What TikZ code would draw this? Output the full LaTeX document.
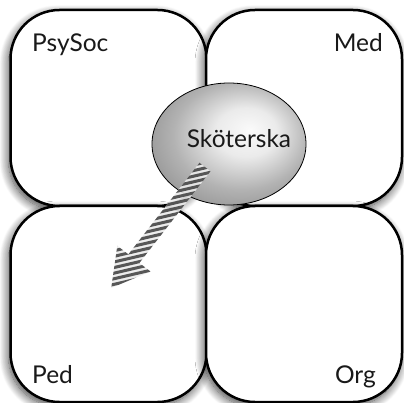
\documentclass[tikz,border=0pt]{standalone}
\usepackage{fontspec}
\setmainfont{Lato}
\usetikzlibrary{shapes.geometric,shadows.blur}

% soft ball shading for the central ellipse, light spot a little up and right
\pgfdeclareradialshading{skball}{\pgfpoint{7bp}{6bp}}{%
  color(0bp)=(black!2); color(10bp)=(black!8); color(22bp)=(black!30); color(30bp)=(black!40); color(50bp)=(black!40)}

\begin{document}
\begin{tikzpicture}[x=1pt,y=-1pt,
  quad/.style={draw=black, line width=2.5pt, fill=white, rounded corners=49pt,
    inner sep=0pt, outer sep=0pt, minimum width=196pt, minimum height=196pt,
    blur shadow={shadow xshift=-2pt, shadow yshift=-4pt, shadow blur radius=9pt,
      shadow blur steps=14, shadow opacity=75}},
  lbl/.style={font=\fontsize{24.5}{29}\selectfont, inner sep=0pt, text=black!90},
  core/.style={ellipse, draw=black, line width=0.8pt, shading=skball,
    inner sep=0pt, minimum width=154pt, minimum height=122pt},
  stripe/.style={draw=black!72, line width=3pt},
]
\useasboundingbox (0,0) rectangle (404,403);

% the four quadrants
\node[quad] (psy) at (108.5,108) {};
\node[quad] (med) at (304,108) {};
\node[quad] (ped) at (108.5,304) {};
\node[quad] (org) at (304,304) {};

% central role
\node[core] (sk) at (229,144) {};
\node[lbl, anchor=base] (skt) at (239,148) {Sköterska};

% striped arrow pointing into the lower-left quadrant
\begin{scope}[shift={(205,167)}, rotate=232.2, opacity=0.9]
  \path[clip] (0,-7) -- (116,-7) -- (116,-21) -- (153,0) -- (116,21) -- (116,7) -- (0,7) -- cycle;
  \begin{scope}[rotate=-232.2]
    \fill[black!8] (-140,-30) rectangle (40,160);
    \foreach \k in {-10,...,40}
      \draw[stripe] (-140,\k*5.6) -- (40,\k*5.6-42);
  \end{scope}
\end{scope}

% quadrant labels
\node[lbl, anchor=base west] (tpsy) at (32,52) {PsySoc};
\node[lbl, anchor=base east] (tmed) at (383,52) {Med};
\node[lbl, anchor=base west] (tped) at (32,383) {Ped};
\node[lbl, anchor=base east] (torg) at (376,383) {Org};
\end{tikzpicture}
\end{document}
